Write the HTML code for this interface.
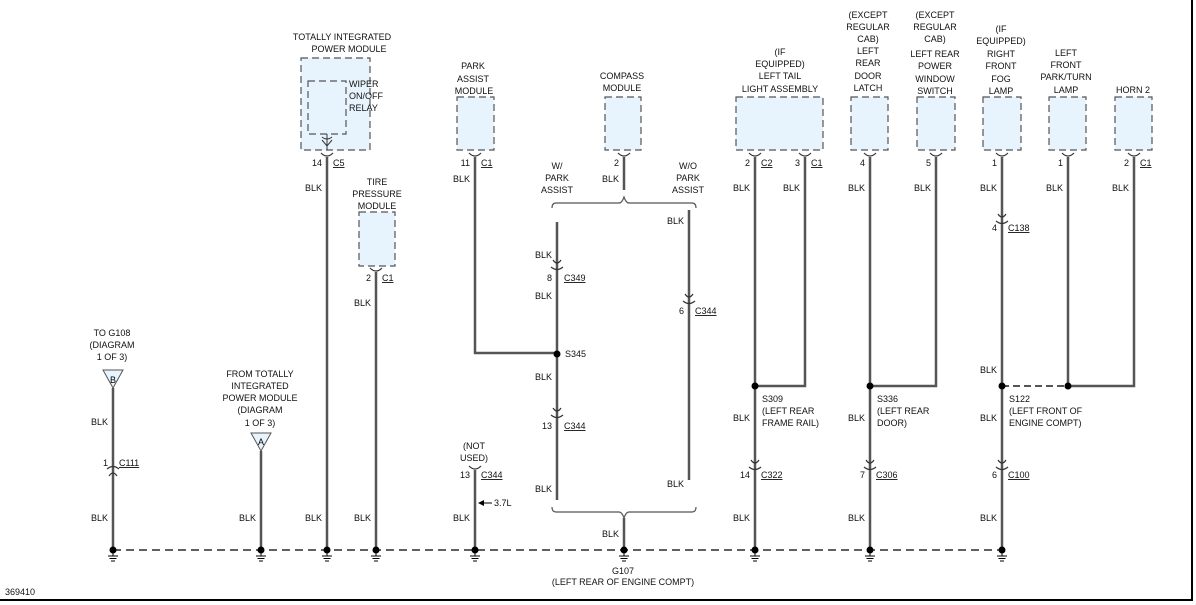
<!DOCTYPE html>
<html><head><meta charset="utf-8"><style>
html,body{margin:0;padding:0;background:#fff;}
svg{display:block;font-family:"Liberation Sans",sans-serif;font-size:9px;}
</style></head><body>
<svg width="1196" height="605" viewBox="0 0 1196 605" xmlns="http://www.w3.org/2000/svg">
<defs>
<g id="fc"><path d="M-6,-4 Q0,2 6,-4" fill="none" stroke="#333" stroke-width="1.2"/></g>
<g id="ic"><path d="M-4,-10 Q0,-4 4,-10" fill="none" stroke="#333" stroke-width="1.2"/><path d="M-6,-3 Q0,2 6,-3" fill="none" stroke="#333" stroke-width="1.2"/></g>
<g id="gnd"><circle r="3.5" fill="#000"/><line x1="0" y1="3" x2="0" y2="6" stroke="#000"/><line x1="-5" y1="6" x2="5" y2="6" stroke="#000"/><line x1="-3.5" y1="8.5" x2="3.5" y2="8.5" stroke="#000"/><line x1="-2" y1="11" x2="2" y2="11" stroke="#000"/></g>
</defs>
<rect x="0" y="0" width="1196" height="605" fill="#fff"/>
<line x1="1192" y1="0" x2="1192" y2="601" stroke="#000" stroke-width="2"/>
<line x1="0" y1="600" x2="1193" y2="600" stroke="#000" stroke-width="2"/>

<g fill="#e8f4fd" stroke="#555" stroke-width="1.2" stroke-dasharray="7,4">
<rect x="301" y="58" width="69" height="92"/>
<rect x="308" y="81" width="38" height="53"/>
<rect x="359" y="212" width="36" height="54"/>
<rect x="457" y="97" width="37" height="53"/>
<rect x="605" y="97" width="36" height="53"/>
<rect x="736" y="97" width="87" height="53"/>
<rect x="851" y="97" width="37" height="53"/>
<rect x="917" y="97" width="38" height="53"/>
<rect x="983" y="97" width="38" height="53"/>
<rect x="1049" y="97" width="37" height="53"/>
<rect x="1115" y="97" width="37" height="53"/>
</g>

<line x1="113" y1="550" x2="1002" y2="550" stroke="#000" stroke-width="1.2" stroke-dasharray="8,5"/>

<g stroke="#555" stroke-width="2.5" fill="none">
<line x1="113" y1="388" x2="113" y2="550"/>
<line x1="261" y1="451" x2="261" y2="550"/>
<line x1="327" y1="157" x2="327" y2="550"/>
<line x1="376" y1="272" x2="376" y2="550"/>
<polyline points="475,157 475,353 557,353"/>
<line x1="475" y1="470" x2="475" y2="550"/>
<line x1="624" y1="157" x2="624" y2="190"/>
<line x1="557" y1="222" x2="557" y2="500"/>
<line x1="689" y1="210" x2="689" y2="480"/>
<line x1="624" y1="518" x2="624" y2="550"/>
<polyline points="805,157 805,386 755,386"/>
<line x1="755" y1="157" x2="755" y2="550"/>
<line x1="870" y1="157" x2="870" y2="550"/>
<polyline points="936,157 936,386 870,386"/>
<line x1="1002" y1="157" x2="1002" y2="550"/>
<line x1="1068" y1="157" x2="1068" y2="386"/>
<polyline points="1134,157 1134,386 1068,386"/>
</g>
<line x1="1002" y1="386" x2="1068" y2="386" stroke="#555" stroke-width="2" stroke-dasharray="7,4"/>
<line x1="327" y1="134" x2="327" y2="150" stroke="#333" stroke-width="1"/>
<path d="M322,140 L327,146 L332,140" fill="none" stroke="#333"/>
<path d="M322,137 Q327,141 332,137" fill="none" stroke="#333"/>

<path d="M552,208 Q552,203 556,203 L619,203 Q622,203 624,197 Q626,203 629,203 L692,203 Q696,203 696,208" fill="none" stroke="#555" stroke-width="1.2"/>
<path d="M552,507 Q552,512 556,512 L619,512 Q622,512 624,518 Q626,512 629,512 L692,512 Q696,512 696,507" fill="none" stroke="#555" stroke-width="1.2"/>

<use href="#fc" x="327" y="157"/><use href="#fc" x="376" y="272"/><use href="#fc" x="475" y="157"/>
<use href="#fc" x="624" y="157"/><use href="#fc" x="755" y="157"/><use href="#fc" x="805" y="157"/>
<use href="#fc" x="870" y="157"/><use href="#fc" x="936" y="157"/><use href="#fc" x="1002" y="157"/>
<use href="#fc" x="1068" y="157"/><use href="#fc" x="1134" y="157"/><use href="#fc" x="475" y="470"/>
<use href="#ic" x="557" y="270"/><use href="#ic" x="557" y="418"/><use href="#ic" x="689" y="304"/>
<use href="#ic" x="1002" y="224"/><use href="#ic" x="755" y="470"/><use href="#ic" x="870" y="470"/>
<use href="#ic" x="1002" y="470"/>
<g transform="translate(113,466) scale(1,-1)"><use href="#ic"/></g>

<g fill="#000"><circle cx="557" cy="354" r="3.5"/><circle cx="755" cy="386" r="3.5"/><circle cx="870" cy="386" r="3.5"/><circle cx="1002" cy="386" r="3.5"/><circle cx="1068" cy="386" r="3.5"/></g>

<use href="#gnd" x="113" y="550"/><use href="#gnd" x="261" y="550"/><use href="#gnd" x="327" y="550"/><use href="#gnd" x="376" y="550"/><use href="#gnd" x="475" y="550"/><use href="#gnd" x="624" y="550"/><use href="#gnd" x="755" y="550"/><use href="#gnd" x="870" y="550"/><use href="#gnd" x="1002" y="550"/>

<polygon points="103,370 123,370 113,388" fill="#e8f4fd" stroke="#555"/>
<polygon points="251,433 271,433 261,451" fill="#e8f4fd" stroke="#555"/>
<text x="113" y="383" text-anchor="middle">B</text>
<text x="261" y="445" text-anchor="middle">A</text>

<line x1="480" y1="503" x2="492" y2="503" stroke="#000"/><path d="M478,503 L484,500 L484,506 Z" fill="#000"/>

<g fill="#111" text-anchor="middle">
<text x="342" y="40">TOTALLY INTEGRATED</text><text x="349" y="52">POWER MODULE</text>
<text x="473" y="69">PARK</text><text x="473" y="82">ASSIST</text><text x="474" y="94">MODULE</text>
<text x="622" y="79">COMPASS</text><text x="622" y="91">MODULE</text>
<text x="377" y="185">TIRE</text><text x="377" y="197">PRESSURE</text><text x="377" y="209">MODULE</text>
<text x="557" y="169">W/</text><text x="557" y="181">PARK</text><text x="557" y="193">ASSIST</text>
<text x="688" y="169">W/O</text><text x="688" y="181">PARK</text><text x="688" y="193">ASSIST</text>
<text x="780" y="55">(IF</text><text x="780" y="67">EQUIPPED)</text><text x="780" y="79">LEFT TAIL</text><text x="780" y="92">LIGHT ASSEMBLY</text>
<text x="868" y="18">(EXCEPT</text><text x="868" y="30">REGULAR</text><text x="868" y="42">CAB)</text><text x="868" y="54">LEFT</text><text x="868" y="66">REAR</text><text x="868" y="79">DOOR</text><text x="868" y="91">LATCH</text>
<text x="935" y="18">(EXCEPT</text><text x="935" y="30">REGULAR</text><text x="935" y="42">CAB)</text><text x="935" y="57">LEFT REAR</text><text x="935" y="69">POWER</text><text x="935" y="82">WINDOW</text><text x="935" y="94">SWITCH</text>
<text x="1001" y="32">(IF</text><text x="1001" y="44">EQUIPPED)</text><text x="1001" y="57">RIGHT</text><text x="1001" y="69">FRONT</text><text x="1001" y="82">FOG</text><text x="1001" y="94">LAMP</text>
<text x="1066" y="56">LEFT</text><text x="1066" y="68">FRONT</text><text x="1066" y="80">PARK/TURN</text><text x="1066" y="93">LAMP</text>
<text x="1133" y="93">HORN 2</text>
<text x="112" y="336">TO G108</text><text x="112" y="348">(DIAGRAM</text><text x="112" y="360">1 OF 3)</text>
<text x="260" y="377">FROM TOTALLY</text><text x="260" y="389">INTEGRATED</text><text x="260" y="401">POWER MODULE</text><text x="260" y="413">(DIAGRAM</text><text x="260" y="426">1 OF 3)</text>
<text x="474" y="449">(NOT</text><text x="474" y="461">USED)</text>
<text x="623" y="574">G107</text><text x="623" y="585">(LEFT REAR OF ENGINE COMPT)</text>
</g>
<g fill="#111">
<text x="349" y="87">WIPER</text><text x="349" y="99">ON/OFF</text><text x="349" y="111">RELAY</text>
<text x="5" y="595">369410</text>
<text x="565" y="357">S345</text>
<text x="762" y="402">S309</text><text x="762" y="414">(LEFT REAR</text><text x="762" y="426">FRAME RAIL)</text>
<text x="877" y="402">S336</text><text x="877" y="414">(LEFT REAR</text><text x="877" y="426">DOOR)</text>
<text x="1009" y="402">S122</text><text x="1009" y="414">(LEFT FRONT OF</text><text x="1009" y="426">ENGINE COMPT)</text>
<text x="494" y="506">3.7L</text>
</g>
<g fill="#111" text-anchor="end">
<text x="322" y="191">BLK</text><text x="371" y="306">BLK</text><text x="470" y="182">BLK</text><text x="619" y="182">BLK</text>
<text x="552" y="258">BLK</text><text x="552" y="299">BLK</text><text x="552" y="380">BLK</text><text x="552" y="492">BLK</text>
<text x="684" y="224">BLK</text><text x="684" y="487">BLK</text><text x="619" y="537">BLK</text>
<text x="750" y="191">BLK</text><text x="800" y="191">BLK</text><text x="865" y="191">BLK</text><text x="931" y="191">BLK</text>
<text x="997" y="191">BLK</text><text x="1063" y="191">BLK</text><text x="1129" y="191">BLK</text>
<text x="108" y="425">BLK</text><text x="108" y="521">BLK</text><text x="256" y="521">BLK</text><text x="322" y="521">BLK</text>
<text x="371" y="521">BLK</text><text x="470" y="521">BLK</text><text x="750" y="521">BLK</text><text x="865" y="521">BLK</text><text x="997" y="521">BLK</text>
<text x="750" y="421">BLK</text><text x="865" y="421">BLK</text><text x="997" y="421">BLK</text><text x="997" y="373">BLK</text>
<text x="322" y="166">14</text><text x="371" y="281">2</text><text x="470" y="166">11</text><text x="619" y="166">2</text>
<text x="750" y="166">2</text><text x="800" y="166">3</text><text x="865" y="166">4</text><text x="931" y="166">5</text>
<text x="997" y="166">1</text><text x="1063" y="166">1</text><text x="1129" y="166">2</text>
<text x="552" y="281">8</text><text x="552" y="429">13</text><text x="684" y="314">6</text><text x="997" y="231">4</text>
<text x="750" y="478">14</text><text x="865" y="478">7</text><text x="997" y="478">6</text><text x="108" y="466">1</text><text x="470" y="478">13</text>
</g>
<g fill="#111" text-decoration="underline">
<text x="333" y="166">C5</text><text x="382" y="281">C1</text><text x="481" y="166">C1</text>
<text x="761" y="166">C2</text><text x="811" y="166">C1</text><text x="1140" y="166">C1</text>
<text x="564" y="281">C349</text><text x="564" y="429">C344</text><text x="695" y="314">C344</text><text x="1008" y="231">C138</text>
<text x="761" y="478">C322</text><text x="876" y="478">C306</text><text x="1008" y="478">C100</text>
<text x="119" y="466">C111</text><text x="481" y="478">C344</text>
</g>
</svg>
</body></html>
